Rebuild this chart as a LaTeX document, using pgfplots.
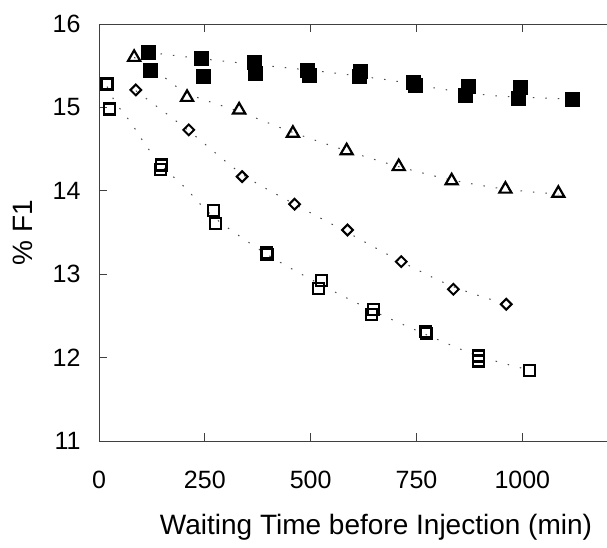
\documentclass[border=0pt]{standalone}
\usepackage{pgfplots}
\pgfplotsset{compat=1.18}
\usepackage{fontspec}
\setmainfont{Liberation Sans}
\begin{document}
\begin{tikzpicture}
\useasboundingbox (-99pt,-106pt) rectangle (508pt,441pt);
\begin{axis}[
  scale only axis, width=508pt, height=417pt,
  xmin=0, xmax=1200, ymin=11, ymax=16,
  axis x line*=box, axis y line*=left,
  axis line style={line width=0.9pt, black!75},
  xtick={0,250,500,750,1000}, ytick={11,12,13,14,15,16},
  tick align=inside, major tick length=8pt,
  tick style={line width=0.8pt, black!75},
  x tick label style={yshift=-27pt},
  y tick label style={xshift=-15pt},
  /pgf/number format/assume math mode=true,
  /pgf/number format/1000 sep={},
  ticklabel style={font=\fontsize{25}{28}\selectfont},
  label style={font=\fontsize{28}{32}\selectfont},
  xlabel={Waiting Time before Injection (min)},
  ylabel={\% F1},
  xlabel style={at={(axis description cs:0.5,0)}, anchor=center, yshift=-86pt, xshift=23pt},
  ylabel style={at={(axis description cs:0,0.5)}, anchor=center, yshift=76pt},
  clip=false,
]
% fit curves (dotted)
\addplot[black!70, line width=1pt, dash pattern=on 1.5pt off 11pt, smooth] coordinates {
(116,15.66) (250,15.58) (375,15.51) (526,15.43) (682,15.33) (809,15.22) (934,15.14) (1059,15.11) (1118,15.10)};
\addplot[black!70, line width=1pt, dash pattern=on 1.5pt off 11pt, smooth] coordinates {
(83,15.60) (137,15.43) (208,15.17) (331,14.95) (458,14.70) (585,14.48) (708,14.29) (833,14.13) (960,14.02) (1085,13.96)};
\addplot[black!70, line width=1pt, dash pattern=on 1.5pt off 11pt, smooth] coordinates {
(87,15.20) (212,14.72) (338,14.20) (462,13.84) (587,13.50) (714,13.15) (837,12.85) (962,12.64)};
\addplot[black!70, line width=1pt, dash pattern=on 1.5pt off 11pt, smooth] coordinates {
(19,15.25) (40,15.05) (75,14.82) (110,14.55) (148,14.30) (203,14.04) (272,13.68) (396,13.24) (522,12.88) (647,12.56) (771,12.28) (896,12.02) (1017,11.85)};
% filled squares
\addplot[only marks, mark=square*, mark size=7pt, mark options={fill=black, draw=black}] coordinates {
(116,15.66) (120,15.45) (241,15.59) (245,15.38) (366,15.54) (370,15.41)
(492,15.45) (496,15.39) (618,15.43) (614,15.37) (743,15.30) (746,15.27)
(873,15.26) (866,15.15) (995,15.24) (990,15.11) (1118,15.10)};
% triangles
\addplot[only marks, line width=2.2pt, mark=triangle, mark size=7pt, mark options={line width=2.2pt, draw=black}] coordinates {
(83,15.60) (208,15.12) (331,14.97) (458,14.69) (585,14.48) (708,14.29) (833,14.12) (960,14.02) (1085,13.97)};
% diamonds
\addplot[only marks, line width=2pt, mark=square, mark size=3.8pt, mark options={rotate=45, line width=2pt, draw=black}] coordinates {
(87,15.21) (212,14.73) (338,14.17) (462,13.84) (587,13.53) (714,13.15) (837,12.82) (962,12.64)};
% open squares
\addplot[only marks, line width=2.2pt, mark=square, mark size=5.5pt, mark options={line width=2.2pt, draw=black}] coordinates {
(19,15.28) (24,14.98) (148,14.31) (146,14.26) (270,13.76) (275,13.61) (396,13.26) (397,13.24)
(526,12.92) (519,12.83) (649,12.58) (644,12.52) (771,12.31) (773,12.29) (896,12.02) (897,11.96) (1017,11.85)};
\end{axis}
\end{tikzpicture}
\end{document}
